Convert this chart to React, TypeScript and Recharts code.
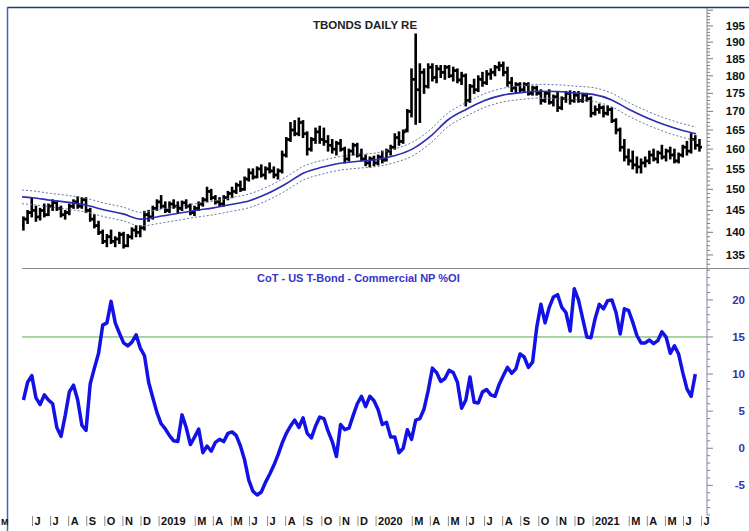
import React from 'react'
import { ComposedChart, LineChart, Line, Bar, XAxis, YAxis, ReferenceLine } from 'recharts'

// time axis: months since Jan 2018 (12 = Jan 2019)
const FIRST_WEEK = 4.5
const WEEK = 12 / 52
const X_DOMAIN: [number, number] = [4.42, 42.3]

const xTicks = [5, 6, 7, 8, 9, 10, 11, 12, 14, 15, 16, 17, 18, 19, 20, 21, 22, 23, 24, 26, 27, 28, 29, 30, 31, 32, 33, 34, 35, 36, 38, 39, 40, 41, 42]
const xLabels = ['J', 'J', 'A', 'S', 'O', 'N', 'D', '2019', 'M', 'A', 'M', 'J', 'J', 'A', 'S', 'O', 'N', 'D', '2020', 'M', 'A', 'M', 'J', 'J', 'A', 'S', 'O', 'N', 'D', '2021', 'M', 'A', 'M', 'J', 'J']

// weekly T-Bond bars: [open, high, low, close]
const ohlc2018 = [
  [141.5, 143.5, 140.5, 143], [143, 145, 142, 144.5], [144.5, 148, 143.5, 145], [145, 146, 142.5, 143.5],
  [143.5, 145.5, 142.8, 145], [145, 146.5, 143.5, 144], [144, 146.5, 143.8, 146], [146, 147.5, 145, 146.8],
  [146.8, 147.2, 145, 145.5], [145.5, 146, 143.5, 144], [144, 145, 143, 144.5], [144.5, 146.5, 144, 146],
  [146, 147.5, 145.5, 147], [147, 148.2, 145.5, 146], [146, 148, 145.5, 147.5], [147.5, 148, 144.5, 145],
  [145, 145.5, 142.5, 143], [143, 144, 141, 141.5], [141.5, 142.5, 139.5, 140], [140, 140.5, 137.5, 138],
  [138, 139.5, 136.8, 139], [139, 140.5, 137.5, 138], [138, 139, 136.8, 138.5], [138.5, 140, 137.5, 139.5],
  [139.5, 140, 136.5, 137], [137, 139.5, 136.8, 139], [139, 141, 138.5, 140.5], [140.5, 141.5, 139, 140],
  [140, 141.5, 139, 141], [141, 144.8, 140.5, 144], [144, 145, 142.5, 143.5], [143.5, 146, 143, 145.5],
  [145.5, 147.5, 145, 147],
]
const ohlc2019 = [
  [147, 148.5, 145.5, 146], [146, 147, 144.5, 145], [145, 147, 144.5, 146.5], [146.5, 147.5, 145.5, 146],
  [146, 147, 144.5, 145.5], [145.5, 147.2, 145, 146.8], [146.8, 147.5, 145.5, 146], [146, 146.5, 144, 144.5],
  [144.5, 146, 143.8, 145.5], [145.5, 147, 145, 146.5], [146.5, 148, 146, 147.5], [147.5, 150.5, 147, 149.5],
  [149.5, 150, 147.5, 148], [148, 148.5, 146.5, 147], [147, 148, 146, 146.5], [146.5, 148.5, 146, 148],
  [148, 149.5, 147.5, 149], [149, 150.5, 148, 149.5], [149.5, 151.5, 149, 151], [151, 152, 149.5, 150],
  [150, 153, 149.8, 152.5], [152.5, 155, 152, 154], [154, 155, 152.5, 153], [153, 155.5, 152.8, 155],
  [155, 156, 153, 153.5], [153.5, 155.5, 152.5, 155], [155, 156.5, 154, 154.5], [154.5, 155.5, 152.8, 153.5],
  [153.5, 155, 152.5, 154.5], [154.5, 159.5, 154, 158.5], [158.5, 163, 158, 162.5], [162.5, 167, 162, 165],
  [165, 167.5, 163.5, 164], [164, 168.2, 163.5, 167], [167, 167.5, 163, 164], [164, 164.5, 158.5, 160],
  [160, 163, 159.5, 162.5], [162.5, 165.5, 161.5, 164.5], [164.5, 166, 161.5, 162.5], [162.5, 165.5, 161, 162],
  [162, 163.5, 159.5, 161], [161, 162.5, 159, 160], [160, 162, 158.5, 161.5], [161.5, 162.5, 159.5, 160],
  [160, 160.5, 156.5, 157.5], [157.5, 160, 157, 159.5], [159.5, 161.5, 158.5, 161], [161, 161.5, 158, 158.5],
  [158.5, 160, 157, 157.5], [157.5, 158.5, 155.8, 156.5], [156.5, 158, 155.5, 157.5], [157.5, 158.2, 155.8, 156.5],
]
const ohlc2020 = [
  [156.5, 158.5, 156, 158], [158, 159.5, 156.5, 157.2], [157.2, 160, 157, 159.5], [159.5, 161, 158.5, 160.5],
  [160.5, 164, 160, 163], [163, 164.5, 161, 162], [162, 165, 161.5, 164.5], [165, 170.5, 164.5, 170],
  [170, 182, 168.5, 179], [179, 192.5, 166.5, 176], [176, 183.5, 167, 181], [181, 182, 175, 177],
  [177, 183.5, 176.5, 182.5], [182.5, 183.5, 178.5, 179.5], [179.5, 183, 178, 182], [182, 183, 179.5, 181],
  [181, 183, 179, 182.5], [182.5, 183, 179.5, 180], [180, 182.5, 178.5, 181.5], [181.5, 182, 178, 178.8],
  [178.8, 181, 177.5, 180], [180, 180.5, 171.5, 173], [173, 177.5, 172.5, 177], [177, 179, 175, 176],
  [176, 180, 175.5, 179], [179, 181, 177, 178], [178, 181.5, 177.5, 180.5], [180.5, 182, 179, 181],
  [181, 183, 180, 182.5], [182.5, 184, 181.5, 183], [183, 184, 180, 181], [181, 182.5, 177, 178],
  [178, 179.5, 175.5, 176.5], [176.5, 178, 175, 177.5], [177.5, 178, 175.2, 176], [176, 178, 175.5, 177.5],
  [177.5, 178, 174.5, 175], [175, 177, 174.5, 176.5], [176.5, 177, 174.5, 175], [175, 176, 172, 173],
  [173, 175.5, 172.5, 175], [175, 176, 172, 172.5], [172.5, 174.5, 171.5, 174], [174, 175.5, 170, 171],
  [171, 174, 170.5, 173.5], [173.5, 175.5, 172.5, 175], [175, 175.7, 172, 173], [173, 175.5, 172.5, 174.5],
  [174.5, 175.5, 172.5, 173], [173, 175, 172.5, 174.5], [174.5, 175, 172.8, 173.5], [173.5, 174, 168.5, 169.5],
]
const ohlc2021 = [
  [169.5, 171.5, 169, 170.5], [170.5, 172, 169.5, 171], [171, 171.5, 168.5, 169.5], [169.5, 171.5, 169, 170.5],
  [170.5, 171, 167, 167.5], [167.5, 168, 164, 165], [165, 165.5, 159.5, 160.5], [160.5, 162.5, 157, 158],
  [158, 160, 156, 157], [157, 159.5, 155, 156], [156, 158, 154, 155.5], [155.5, 157.5, 154, 156.5],
  [156.5, 158, 155.5, 157], [157, 159.5, 156.3, 158.5], [158.5, 160, 157, 157.5], [157.5, 159.5, 156.5, 159],
  [159, 161, 157.5, 158], [158, 160, 157, 159.5], [159.5, 160.5, 157.5, 158.5], [158.5, 160, 156.5, 157],
  [157, 159, 156.5, 158.5], [158.5, 161, 158, 160.5], [160.5, 162, 158.5, 159.5], [159.5, 164, 159, 162.5],
  [162.5, 163.5, 160, 161], [161, 162.5, 159.5, 160.5],
]

// moving average read at month starts, with its envelope
const maT = [4.42, 5, 6, 7, 8, 9, 10, 11, 12, 13, 14, 15, 16, 17, 18, 19, 20, 21, 22, 23, 24, 25, 26, 27, 28, 29, 30, 31, 32, 33, 34, 35, 36, 37, 38, 39, 40, 41, 41.7]
const maValues = [148.2, 148.0, 147.4, 146.9, 146.2, 145.1, 144.2, 143.0, 143.6, 144.3, 145.0, 145.6, 146.4, 147.3, 149.0, 151.3, 154.0, 155.4, 156.4, 156.9, 157.3, 158.3, 160.0, 163.3, 167.8, 170.6, 173.0, 174.5, 175.2, 175.6, 175.5, 175.1, 174.7, 173.2, 170.5, 168.2, 166.3, 164.8, 164.0]
const ENVELOPE = 0.011

// CoT commercial net position % of open interest, weekly
const cot2018 = [6.5, 8.9, 9.8, 6.8, 5.9, 7.2, 6.5, 6.0, 2.8, 1.6, 4.4, 7.6, 8.5, 6.5, 3.1, 2.4, 8.7, 10.8, 12.8, 16.6, 16.9, 19.8, 16.9, 15.5, 14.2, 13.8, 14.3, 15.3, 13.5, 12.5, 8.9, 6.8, 4.8]
const cot2019 = [3.3, 2.6, 1.7, 1.0, 0.9, 4.5, 2.8, 0.5, 1.5, 2.6, -0.6, 0.3, -0.4, 0.8, 1.2, 0.9, 2.0, 2.2, 1.7, 0.3, -1.6, -4.3, -5.8, -6.3, -5.9, -4.6, -3.5, -2.3, -0.9, 0.7, 2.0, 3.0, 3.8, 2.8, 4.1, 2.0, 1.4, 3.0, 4.2, 4.0, 2.3, 0.9, -1.1, 3.2, 2.5, 2.7, 4.4, 6.0, 7.0, 5.6, 7.0, 6.4]
const cot2020 = [5.2, 3.2, 3.5, 1.5, 1.5, -0.6, 0.0, 2.5, 1.2, 3.8, 4.0, 5.3, 7.8, 10.8, 10.2, 9.0, 9.4, 10.5, 10.2, 8.9, 5.4, 6.5, 9.6, 6.2, 6.1, 7.6, 7.9, 7.2, 7.0, 8.6, 9.8, 10.9, 10.1, 10.7, 12.7, 12.3, 10.9, 11.6, 16.3, 19.4, 16.9, 19.0, 20.4, 20.7, 19.0, 18.3, 15.8, 21.5, 20.0, 17.5, 15.0, 14.9]
const cot2021 = [17.5, 19.4, 18.8, 19.9, 20.0, 18.3, 15.4, 18.8, 18.6, 17.0, 15.2, 14.2, 14.2, 14.6, 14.1, 14.5, 15.7, 15.0, 12.8, 13.8, 12.7, 10.2, 8.0, 7.0, 10.0]
const COT_LEVEL = 15

const priceTicks = Array.from({ length: 68 }, (_, i) => 133 + i)
const cotTicks = Array.from({ length: 34 }, (_, i) => -9 + i)

const barRows = [...ohlc2018, ...ohlc2019, ...ohlc2020, ...ohlc2021].map(([o, h, l, c], i) => ({
  t: FIRST_WEEK + i * WEEK, o, h, l, c, range: [l, h],
}))
const maRows = maT.map((t, i) => ({
  t, ma: maValues[i], up: maValues[i] * (1 + ENVELOPE), dn: maValues[i] * (1 - ENVELOPE),
}))
const cotRows = [...cot2018, ...cot2019, ...cot2020, ...cot2021].map((v, i) => ({ t: FIRST_WEEK + i * WEEK, v }))

const FONT = 'Arial, "Liberation Sans", Helvetica, sans-serif'

function OhlcShape(props: any) {
  const { x, y, width, height, payload } = props
  if (x == null || y == null || !payload) return null
  const top = Math.min(y, y + height)
  const h = Math.abs(height)
  const cx = x + width / 2
  const span = Math.log(payload.h) - Math.log(payload.l) || 1
  const yAt = (v: number) => top + (h * (Math.log(payload.h) - Math.log(v))) / span
  return (
    <g stroke="#000" strokeWidth={2.6}>
      <line x1={cx} x2={cx} y1={top - 0.5} y2={top + h + 0.5} />
      <line x1={cx - 2.6} x2={cx} y1={yAt(payload.o)} y2={yAt(payload.o)} />
      <line x1={cx} x2={cx + 2.6} y1={yAt(payload.c)} y2={yAt(payload.c)} />
    </g>
  )
}

function PriceTick({ x, y, payload }: any) {
  const v = payload.value
  const major = v % 5 === 0
  return (
    <g>
      <line x1={x} x2={x + (major ? 6 : 3)} y1={y} y2={y} stroke="#7a7a7a" strokeWidth={1} />
      {major && v >= 135 && v <= 195 && (
        <text x={745} y={y} dy={4} textAnchor="end" fontSize={11.5} fontWeight="bold" fill="#111" fontFamily={FONT}>
          {v}
        </text>
      )}
    </g>
  )
}

function CotTick({ x, y, payload }: any) {
  const v = payload.value
  const major = v % 5 === 0
  return (
    <g>
      <line x1={x} x2={x + (major ? 6 : 3)} y1={y} y2={y} stroke="#8080a8" strokeWidth={1} />
      {major && v >= -5 && v <= 20 && (
        <text x={745} y={y} dy={4} textAnchor="end" fontSize={11.5} fontWeight="bold" fill="#3434a8" fontFamily={FONT}>
          {v}
        </text>
      )}
    </g>
  )
}

function MonthTick({ x, y, payload }: any) {
  const label = xLabels[xTicks.indexOf(payload.value)]
  return (
    <g>
      <line x1={x} x2={x} y1={y + 1} y2={y + 11} stroke="#8a8a8a" strokeWidth={1} />
      <text x={x + 2} y={y + 9.5} fontSize={11} fontWeight="bold" fill="#111" fontFamily={FONT}>
        {label}
      </text>
    </g>
  )
}

export default function App() {
  return (
    <div style={{ position: 'absolute', left: 0, top: 0, width: 749, height: 531, background: '#fff', overflow: 'hidden' }}>
      <div style={{ position: 'absolute', left: 0, top: 0 }}>
        <ComposedChart width={749} height={268} data={barRows} margin={{ top: 8, right: 0, bottom: 0, left: 22 }}>
          <XAxis dataKey="t" type="number" domain={X_DOMAIN} allowDataOverflow hide />
          <YAxis
            orientation="right"
            scale="log"
            domain={[132.2, 200.7]}
            allowDataOverflow
            ticks={priceTicks}
            interval={0}
            width={42}
            tickSize={0}
            tickMargin={0}
            tickLine={false}
            axisLine={{ stroke: '#8a8a8a' }}
            tick={<PriceTick />}
          />
          <Bar dataKey="range" barSize={2} shape={<OhlcShape />} isAnimationActive={false} />
          <Line data={maRows} dataKey="up" type="monotone" stroke="#7070a8" strokeWidth={1} strokeDasharray="2 2" dot={false} isAnimationActive={false} />
          <Line data={maRows} dataKey="dn" type="monotone" stroke="#7070a8" strokeWidth={1} strokeDasharray="2 2" dot={false} isAnimationActive={false} />
          <Line data={maRows} dataKey="ma" type="monotone" stroke="#2c2cb0" strokeWidth={1.6} dot={false} isAnimationActive={false} />
        </ComposedChart>
      </div>
      <div style={{ position: 'absolute', left: 0, top: 268 }}>
        <LineChart width={749} height={263} data={cotRows} margin={{ top: 0, right: 0, bottom: 0, left: 22 }}>
          <XAxis
            dataKey="t"
            type="number"
            domain={X_DOMAIN}
            allowDataOverflow
            ticks={xTicks}
            interval={0}
            height={16}
            tickSize={0}
            tickMargin={0}
            axisLine={false}
            tickLine={false}
            tick={<MonthTick />}
          />
          <YAxis
            orientation="right"
            domain={[-9, 24.3]}
            allowDataOverflow
            ticks={cotTicks}
            interval={0}
            width={42}
            tickSize={0}
            tickMargin={0}
            tickLine={false}
            axisLine={{ stroke: '#8080a8' }}
            tick={<CotTick />}
          />
          <ReferenceLine y={COT_LEVEL} stroke="#5aab4a" strokeWidth={1} />
          <Line dataKey="v" type="linear" stroke="#1212e6" strokeWidth={3.5} strokeLinejoin="round" dot={false} isAnimationActive={false} />
        </LineChart>
      </div>
      <svg width={749} height={531} style={{ position: 'absolute', left: 0, top: 0, pointerEvents: 'none' }}>
        <line x1={7} x2={749} y1={7.5} y2={7.5} stroke="#223870" strokeWidth={1.5} />
        <line x1={7.5} x2={7.5} y1={7} y2={531} stroke="#4a64b8" strokeWidth={1.5} />
        <line x1={22} x2={749} y1={268.5} y2={268.5} stroke="#8c8c8c" strokeWidth={1} />
        <text x={365} y={29} textAnchor="middle" fontSize={11.5} fontWeight="bold" fill="#222" fontFamily={FONT}>
          TBONDS DAILY RE
        </text>
        <text x={257} y={282} fontSize={11} fontWeight="bold" fill="#3535c8" fontFamily={FONT}>
          CoT - US T-Bond - Commercial NP %OI
        </text>
        <text x={1} y={525} fontSize={9} fontWeight="bold" fill="#111" fontFamily={FONT}>
          M
        </text>
      </svg>
    </div>
  )
}
